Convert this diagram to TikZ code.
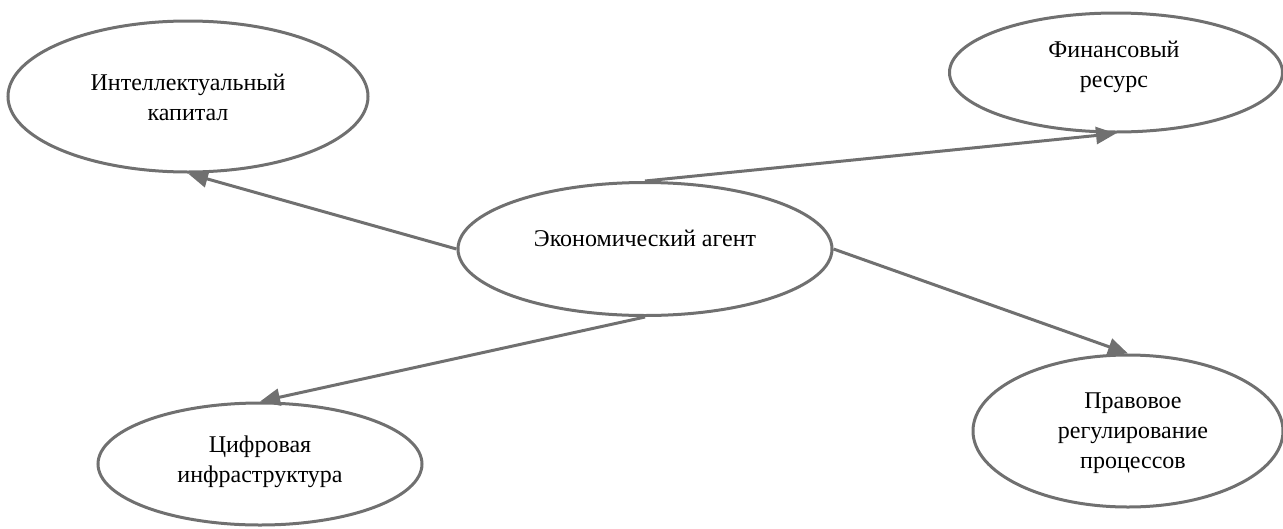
\documentclass[tikz,border=0pt]{standalone}
\usepackage{fontspec}
\setmainfont{Liberation Serif}
\usetikzlibrary{shapes.geometric,arrows.meta}
\definecolor{edgegray}{RGB}{112,112,112}
\tikzset{
  blob/.style={ellipse, draw=edgegray, line width=3pt, inner sep=0pt},
  txt/.style={align=center, font=\fontsize{24}{30}\selectfont},
  link/.style={draw=edgegray, line width=3pt, -{Triangle[length=20pt,width=17pt]}}
}
\begin{document}
\begin{tikzpicture}[x=1pt,y=-1pt]
\useasboundingbox (0,0) rectangle (1283,528);

\node[blob, minimum width=360, minimum height=151] (int) at (188,96.5) {};
\node[txt] (int-txt) at (188,97) {Интеллектуальный\\капитал};

\node[blob, minimum width=333, minimum height=119] (fin) at (1116,72.5) {};
\node[txt] (fin-txt) at (1114,67) {Финансовый\\ресурс};

\node[blob, minimum width=374, minimum height=133] (eco) at (645,249) {};
\node[txt] (eco-txt) at (645,238) {Экономический агент};

\node[blob, minimum width=324, minimum height=122] (cif) at (260,464) {};
\node[txt] (cif-txt) at (260,462) {Цифровая\\инфраструктура};

\node[blob, minimum width=310, minimum height=152] (prav) at (1128,431) {};
\node[txt] (prav-txt) at (1133,433) {Правовое\\регулирование\\процессов};

\draw[link] (eco.west) -- (int.south);
\draw[link] (eco.north) -- (fin.south);
\draw[link] (eco.east) -- (prav.north);
\draw[link] (eco.south) -- (cif.north);
\end{tikzpicture}
\end{document}
